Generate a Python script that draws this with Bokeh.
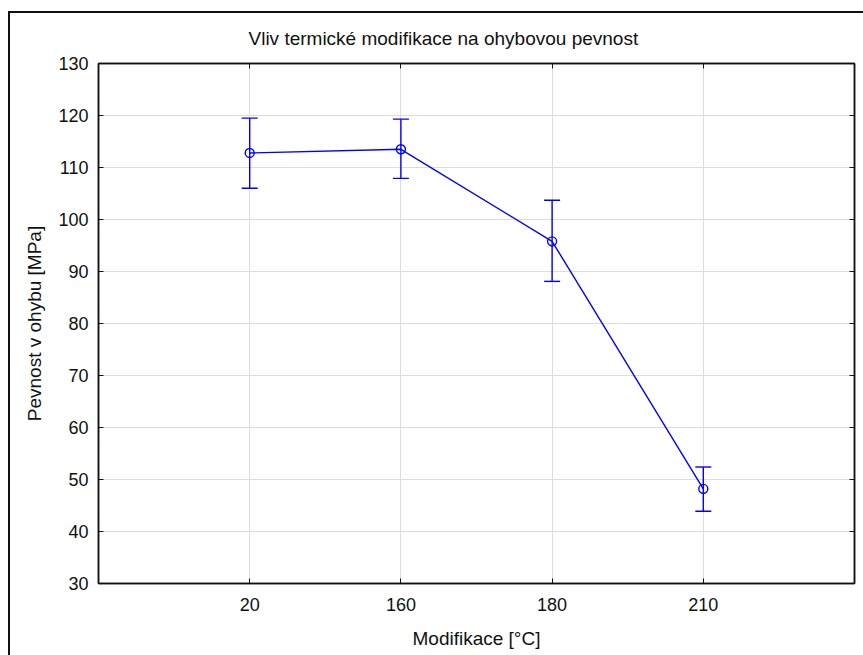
from bokeh.plotting import figure
from bokeh.models import (ColumnDataSource, Whisker, FactorRange, Range1d, LinearAxis,
                          CategoricalAxis, SingleIntervalTicker, Title)
from bokeh.embed import file_html
from bokeh.resources import INLINE

categories = ["20", "160", "180", "210"]
means = [112.8, 113.5, 95.8, 48.2]
upper = [119.5, 119.3, 103.7, 52.4]
lower = [106.0, 107.9, 88.1, 43.9]

FONT = "Liberation Sans"
TICK_FS = "18px"
LABEL_FS = "19px"

src = ColumnDataSource(dict(x=categories, y=means, upper=upper, lower=lower))

p = figure(x_range=FactorRange(*categories, range_padding=0.25),
           y_range=Range1d(30, 130),
           frame_width=756, frame_height=520,
           min_border_left=88, min_border_right=9, min_border_top=50, min_border_bottom=72,
           output_backend="svg", toolbar_location=None, title=None)
p.styles = {"border-top": "2px solid #111", "border-left": "2px solid #111",
            "margin-top": "11px", "margin-left": "8px"}

p.outline_line_color = "#111"
p.outline_line_width = 1.5

p.line("x", "y", source=src, line_color="#0000ff", line_width=1.4)
p.scatter("x", "y", source=src, size=9, fill_color=None, line_color="#0000ff", line_width=1.4)
w = Whisker(base="x", upper="upper", lower="lower", source=src, line_color="#0000ff", line_width=1.4)
for head in (w.upper_head, w.lower_head):
    head.size = 16
    head.line_color = "#0000ff"
    head.line_width = 1.4
p.add_layout(w)

p.yaxis.ticker = SingleIntervalTicker(interval=10, num_minor_ticks=0)

for ax in p.axis:
    ax.major_tick_in = 5
    ax.major_tick_out = 0
    ax.minor_tick_line_color = None
    ax.axis_line_color = "#111"
    ax.axis_line_width = 1.5
    ax.major_tick_line_color = "#111"
    ax.major_label_text_font = FONT
    ax.major_label_text_font_size = TICK_FS
    ax.major_label_text_color = "#111"
    ax.axis_label_text_font = FONT
    ax.axis_label_text_font_size = LABEL_FS
    ax.axis_label_text_font_style = "normal"
    ax.axis_label_text_color = "#111"

p.xaxis.axis_label = "Modifikace [°C]"
p.yaxis.axis_label = "Pevnost v ohybu [MPa]"
p.xaxis.major_label_standoff = 14
p.yaxis.major_label_standoff = 10
p.xaxis.axis_label_standoff = 14
p.yaxis.axis_label_standoff = 10

ra = LinearAxis(ticker=SingleIntervalTicker(interval=10, num_minor_ticks=0),
                major_label_text_font_size="1px", major_label_text_color=None,
                major_label_standoff=0, major_tick_in=5, major_tick_out=0,
                minor_tick_line_color=None, axis_line_color="#111", axis_line_width=1.5,
                major_tick_line_color="#111")
p.add_layout(ra, "right")
ta = CategoricalAxis(major_label_text_font_size="1px", major_label_text_color=None,
                     major_label_standoff=0, major_tick_in=5, major_tick_out=0,
                     axis_line_color="#111", axis_line_width=1.5, major_tick_line_color="#111")
p.add_layout(ta, "above")

p.add_layout(Title(text="Vliv termické modifikace na ohybovou pevnost", align="left", offset=150,
                   standoff=26, vertical_align="top", text_font=FONT, text_font_size=LABEL_FS,
                   text_font_style="normal", text_color="#111"), "above")

p.xgrid.grid_line_color = "#dddddd"
p.ygrid.grid_line_color = "#dddddd"

open("out.html", "w").write(file_html(p, INLINE))
